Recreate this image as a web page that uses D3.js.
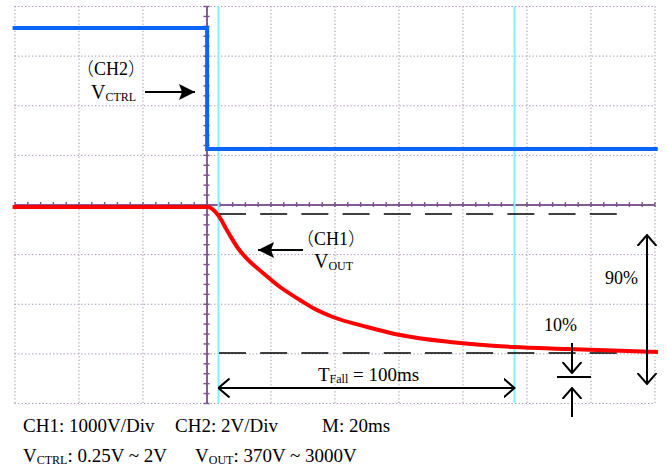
<html>
<script src="https://d3js.org/d3.v7.min.js"></script>
<style>
  body {margin: 0; background: #fff;}
  text {font-family: "Liberation Serif", "Times New Roman", serif; fill: #000;}
  .cjk {font-family: "Noto Sans CJK SC", sans-serif; font-weight: 300;}
  .grid line {stroke: #ab90b4; stroke-dasharray: 1.3,2.2;}
  .grid path {display: none;}
  .mid path, .mid line {stroke: #7d5090; stroke-width: 1.4;}
</style>
<body>
<svg width="667" height="467"></svg>
<script>
// time grid (ms) and vertical divisions
const gridTimes = d3.range(-60, 141, 20);
const gridDivs = d3.range(-4, 4.01, 1);

// CH2 : control voltage (V)
const ch2Time = [-60.6, 0.2, 0.2, 141];
const ch2Volt = [2, 2, 0.25, 0.25];

// CH1 : output voltage (V)
const ch1Time = [-60.6, -30, 0.5, 3.6, 6.7, 9.8, 13.0, 17.3, 23.0, 29.2, 33.3, 39.5, 50.2, 60.5, 76.1, 95.8, 112.7, 141.1];
const ch1Volt = [3000, 3000, 3000, 2855, 2547, 2257, 2039, 1821, 1549, 1313, 1168, 1005, 824, 678, 551, 461, 424, 370];

// cursors and reference levels
const cursorTimes = [3.75, 96.25];
const levelVolts = [2873, 352];
const levelSpan = [3.9, 128.3];

const bottomLine1 = ["CH1: 1000V/Div", "CH2: 2V/Div", "M: 20ms"];

const svg = d3.select("svg");
const x = d3.scaleLinear().domain([-60, 140]).range([14.5, 654.5]);
const yDiv = d3.scaleLinear().domain([-4, 4]).range([403, 6]);
const y1 = d3.scaleLinear().domain([370, 3000]).range([352, 207]);
const y2 = d3.scaleLinear().domain([0.25, 2]).range([149, 28]);

// dotted grid
svg.append("g").attr("class", "grid")
  .attr("transform", "translate(0,403)")
  .call(d3.axisBottom(x).tickValues(gridTimes).tickSize(-397).tickFormat(""));
svg.append("g").attr("class", "grid")
  .attr("transform", "translate(14.5,0)")
  .call(d3.axisLeft(yDiv).tickValues(gridDivs).tickSize(-640).tickFormat(""));

// centre axes with minor ticks
const minorT = d3.range(-60, 140.01, 4);
const minorD = d3.range(-4, 4.01, 0.2);
const x0 = x(0), yc = yDiv(0);
svg.append("g").attr("class", "mid").attr("transform", `translate(0,${yc})`)
  .call(d3.axisBottom(x).tickValues(minorT).tickSize(2.5).tickSizeOuter(0).tickFormat(""));
svg.append("g").attr("class", "mid").attr("transform", `translate(0,${yc})`)
  .call(d3.axisTop(x).tickValues(minorT).tickSize(2.5).tickSizeOuter(0).tickFormat(""));
svg.append("g").attr("class", "mid").attr("transform", `translate(${x0},0)`)
  .call(d3.axisLeft(yDiv).tickValues(minorD).tickSize(3).tickSizeOuter(0).tickFormat(""));
svg.append("g").attr("class", "mid").attr("transform", `translate(${x0},0)`)
  .call(d3.axisRight(yDiv).tickValues(minorD).tickSize(3).tickSizeOuter(0).tickFormat(""));

// cursors
svg.selectAll(".cursor").data(cursorTimes).enter().append("line")
  .attr("x1", d => x(d)).attr("x2", d => x(d))
  .attr("y1", yDiv(4)).attr("y2", yDiv(-4))
  .attr("stroke", "#7ff6ff").attr("stroke-width", 2);

// dashed reference levels
svg.selectAll(".level").data(levelVolts).enter().append("line")
  .attr("x1", x(levelSpan[0])).attr("x2", x(levelSpan[1]))
  .attr("y1", d => y1(d)).attr("y2", d => y1(d))
  .attr("stroke", "#000").attr("stroke-width", 1.6)
  .attr("stroke-dasharray", "27,14.2");

// traces
svg.append("path")
  .attr("d", d3.line().x(d => x(ch2Time[d])).y(d => y2(ch2Volt[d]))(d3.range(ch2Time.length)))
  .attr("fill", "none").attr("stroke", "#0a64f5").attr("stroke-width", 4);
svg.append("path")
  .attr("d", d3.line().curve(d3.curveMonotoneX).x(d => x(ch1Time[d])).y(d => y1(ch1Volt[d]))(d3.range(ch1Time.length)))
  .attr("fill", "none").attr("stroke", "#ff0000").attr("stroke-width", 4);

// arrow markers
const defs = svg.append("defs");
defs.append("marker").attr("id", "open")
  .attr("viewBox", "0 0 12 20").attr("refX", 11).attr("refY", 10)
  .attr("markerWidth", 12).attr("markerHeight", 20).attr("markerUnits", "userSpaceOnUse")
  .attr("orient", "auto-start-reverse")
  .append("path").attr("d", "M0,0.5L11,10L0,19.5").attr("fill", "none")
  .attr("stroke", "#000").attr("stroke-width", 2);
defs.append("marker").attr("id", "solid")
  .attr("viewBox", "0 0 16 16").attr("refX", 16).attr("refY", 8)
  .attr("markerWidth", 16).attr("markerHeight", 16).attr("markerUnits", "userSpaceOnUse")
  .attr("orient", "auto")
  .append("path").attr("d", "M0,0L16,8L0,16L3,8Z").attr("fill", "#000");

function arrow(x1, y1_, x2, y2_, start, end) {
  const l = svg.append("line").attr("x1", x1).attr("y1", y1_).attr("x2", x2).attr("y2", y2_)
    .attr("stroke", "#000").attr("stroke-width", 2);
  if (start) l.attr("marker-start", `url(#${start})`);
  if (end) l.attr("marker-end", `url(#${end})`);
}

// VCTRL and VOUT pointers
arrow(145, 92, 195, 92, null, "solid");
arrow(303, 250, 258, 250, null, "solid");
// 90% span
arrow(647, 235, 647, 384, "open", "open");
// T fall span
arrow(x(cursorTimes[0]), 388, x(cursorTimes[1]), 388, "open", "open");
// 10% marks
arrow(572, 343, 572, 373, null, "open");
svg.append("line").attr("x1", 557).attr("x2", 591).attr("y1", 377).attr("y2", 377)
  .attr("stroke", "#000").attr("stroke-width", 2);
arrow(572, 417, 572, 388, null, "open");

// labels
function label(px, py, size, parts) {
  const t = svg.append("text").attr("x", px).attr("y", py).attr("font-size", size);
  parts.forEach(p => {
    const s = t.append("tspan").text(p[0]);
    if (p[1]) s.attr("font-size", p[1]).attr("dy", 2);
    else if (p[2]) s.attr("dy", -2);
  });
}
function channel(px, py, name) {
  const t = svg.append("text").attr("x", px).attr("y", py).attr("font-size", 18);
  t.append("tspan").attr("class", "cjk").text("（");
  t.append("tspan").text(name);
  t.append("tspan").attr("class", "cjk").text("）");
}
channel(76, 75, "CH2");
label(91, 99, 20, [["V"], ["CTRL", 12]]);
channel(296, 245, "CH1");
label(314, 268, 20, [["V"], ["OUT", 12]]);
label(605, 284, 18, [["90%"]]);
label(544, 331, 18, [["10%"]]);
label(318, 381, 19, [["T"], ["Fall", 12], [" = 100ms", null, true]]);

svg.selectAll(".b1").data(bottomLine1).enter().append("text")
  .attr("x", (d, i) => [23, 175, 322][i]).attr("y", 432)
  .attr("font-size", 19).text(d => d);
label(23, 462, 19, [["V"], ["CTRL", 12], [": 0.25V ~ 2V", null, true]]);
label(195, 462, 19, [["V"], ["OUT", 12], [": 370V ~ 3000V", null, true]]);
</script>
</body>
</html>
